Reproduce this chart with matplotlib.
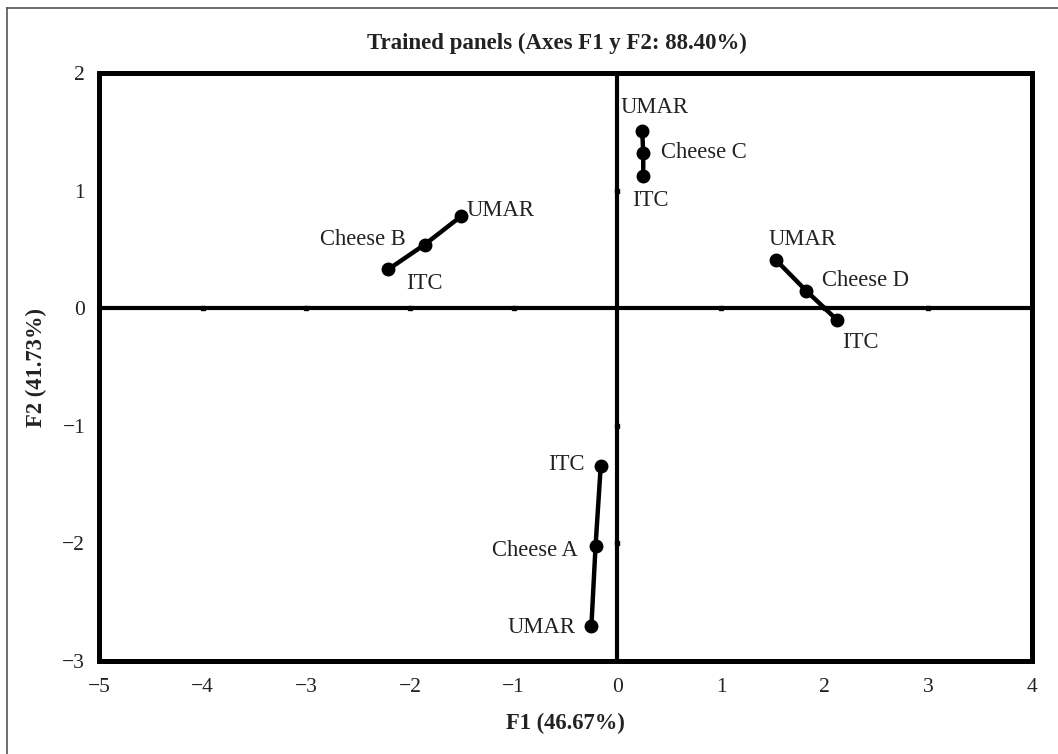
import matplotlib
matplotlib.use("Agg")
import matplotlib.pyplot as plt
from matplotlib.lines import Line2D

plt.rcParams['font.family'] = ['Liberation Serif', 'DejaVu Serif']
plt.rcParams['axes.unicode_minus'] = True

# Data (F1, F2) per cheese: UMAR, Cheese, ITC
cheeses = ["Cheese A", "Cheese B", "Cheese C", "Cheese D"]
panel_labels = ["UMAR", "cheese", "ITC"]
f1_A = [-0.25, -0.21, -0.16]
f2_A = [-2.70, -2.02, -1.34]
f1_B = [-1.51, -1.86, -2.21]
f2_B = [0.78, 0.54, 0.33]
f1_C = [0.24, 0.25, 0.25]
f2_C = [1.51, 1.32, 1.12]
f1_D = [1.53, 1.82, 2.12]
f2_D = [0.41, 0.15, -0.10]

xticks = [-5, -4, -3, -2, -1, 0, 1, 2, 3, 4]
yticks = [-3, -2, -1, 0, 1, 2]

# label offsets in pixels (dx, dy up) for UMAR, cheese, ITC
offsets = {
    "Cheese A": [(-50, -2), (-61, -5), (-34, 1)],
    "Cheese B": [(40, 6), (-62, 5), (36, -14)],
    "Cheese C": [(12, 23), (61, 0), (7, -24)],
    "Cheese D": [(27, 20), (60, 10), (23, -23)],
}

fig = plt.figure(figsize=(10.58, 7.54), dpi=100)
ax = fig.add_axes([0.0936, 0.1233, 0.8818, 0.7799])
ax.set_xlim(-5, 4)
ax.set_ylim(-3, 2)

# zero lines
ax.axhline(0, color='black', lw=3.0, zorder=1)
ax.axvline(0, color='black', lw=3.0, zorder=1)
# small marks on zero lines
ax.plot([t for t in xticks if t not in (-5, 0, 4)], [0] * 7, ls='none',
        marker='s', ms=3, color='black', zorder=1)
ax.plot([0, 0, 0], [1, -1, -2], ls='none', marker='s', ms=3, color='black', zorder=1)

data = {"Cheese A": (f1_A, f2_A), "Cheese B": (f1_B, f2_B),
        "Cheese C": (f1_C, f2_C), "Cheese D": (f1_D, f2_D)}
for name in cheeses:
    xs, ys = data[name]
    ax.plot(xs, ys, color='black', lw=3.2, marker='o', ms=9, zorder=3)
    for i, lab in enumerate(panel_labels):
        text = name if lab == "cheese" else lab
        dx, dy = offsets[name][i]
        ax.annotate(text, (xs[i], ys[i]), xytext=(dx * 0.72, dy * 0.72),
                    textcoords='offset points', ha='center', va='center',
                    fontsize=16.3, color='#222222')

ax.set_xticks(xticks)
ax.set_yticks(yticks)
ax.tick_params(axis='both', length=0, labelsize=15.5, colors='#222222')
ax.tick_params(axis='x', pad=12)
ax.tick_params(axis='y', pad=10)
for s in ax.spines.values():
    s.set_linewidth(3.6)
    s.set_color('black')

ax.set_xlabel("F1 (46.67%)", fontsize=16.3, fontweight='bold', labelpad=12, color='#222222')
ax.set_ylabel("F2 (41.73%)", fontsize=16.3, fontweight='bold', labelpad=11, color='#222222')
fig.text(0.526, 0.943, "Trained panels (Axes F1 y F2: 88.40%)", ha='center', va='center',
         fontsize=16.5, fontweight='bold', color='#222222')

# outer border (left and top)
fig.add_artist(Line2D([7 / 1058, 7 / 1058], [0, 1 - 8 / 754], transform=fig.transFigure,
                      color='#555555', lw=1.2))
fig.add_artist(Line2D([7 / 1058, 1], [1 - 8 / 754, 1 - 8 / 754], transform=fig.transFigure,
                      color='#555555', lw=1.2))

fig.savefig("out.png", dpi=100)
